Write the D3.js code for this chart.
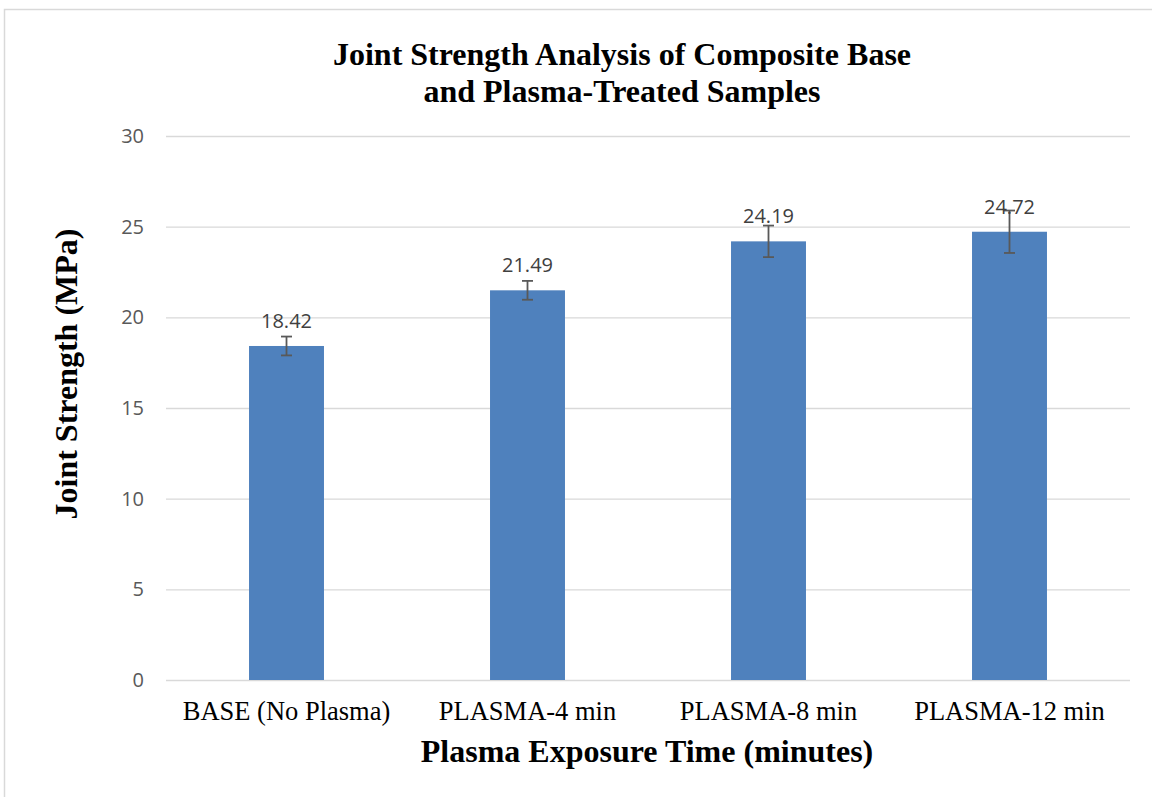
<!DOCTYPE html>
<html>
<head>
<meta charset="utf-8">
<script src="https://cdn.jsdelivr.net/npm/d3@7"></script>
<style>
  html, body { margin: 0; padding: 0; background: #fff; }
  svg { display: block; }
</style>
</head>
<body>
<svg id="chart" width="1152" height="797"></svg>
<script>
// Joint strength per treatment, with standard-deviation error bars
const categories = ["BASE (No Plasma)", "PLASMA-4 min", "PLASMA-8 min", "PLASMA-12 min"];
const strengths = [18.42, 21.49, 24.19, 24.72];
const errors = [0.52, 0.52, 0.87, 1.17];
const yTicks = [0, 5, 10, 15, 20, 25, 30];
const titleLines = ["Joint Strength Analysis of Composite Base", "and Plasma-Treated Samples"];
const xTitle = "Plasma Exposure Time (minutes)";
const yTitle = "Joint Strength (MPa)";

const W = 1152, H = 797;
const plot = { left: 166, right: 1130, top: 136, bottom: 680 };
const serif = "'Liberation Serif', 'Times New Roman', serif";
const sans = "'Open Sans', 'Liberation Sans', sans-serif";

const svg = d3.select("#chart");

// chart frame
svg.append("rect")
  .attr("x", 4.5).attr("y", 9.5)
  .attr("width", W + 10).attr("height", H + 10)
  .attr("fill", "#fff").attr("stroke", "#d9d9d9").attr("stroke-width", 1.5);

const x = d3.scaleBand()
  .domain(categories)
  .range([plot.left, plot.right])
  .paddingInner(0.689).paddingOuter(0.3445);

const y = d3.scaleLinear().domain([0, 30]).range([plot.bottom, plot.top]);

// horizontal gridlines and value labels
const yAxis = d3.axisLeft(y).tickValues(yTicks).tickSize(-(plot.right - plot.left)).tickPadding(22);
const gy = svg.append("g").attr("transform", `translate(${plot.left},0)`).call(yAxis);
gy.select(".domain").remove();
gy.selectAll(".tick line").attr("stroke", "#d9d9d9").attr("stroke-width", 1.3);
gy.selectAll(".tick text")
  .attr("fill", "#595959").style("font-family", sans).style("font-size", "20px");

// category axis
const xAxis = d3.axisBottom(x).tickSize(0).tickPadding(21);
const gx = svg.append("g").attr("transform", `translate(0,${plot.bottom})`).call(xAxis);
gx.select(".domain").remove();
gx.selectAll(".tick text")
  .attr("fill", "#000").style("font-family", serif).style("font-size", "26.5px");

// bars
svg.append("g").selectAll("rect")
  .data(categories)
  .join("rect")
  .attr("x", d => x(d))
  .attr("width", x.bandwidth())
  .attr("y", (d, i) => y(strengths[i]))
  .attr("height", (d, i) => y(0) - y(strengths[i]))
  .attr("fill", "#4f81bd");

// error bars
const eb = svg.append("g").attr("stroke", "#595959").attr("stroke-width", 1.8).attr("fill", "none");
categories.forEach((c, i) => {
  const cx = x(c) + x.bandwidth() / 2;
  const hi = y(strengths[i] + errors[i]);
  const lo = y(strengths[i] - errors[i]);
  eb.append("line").attr("x1", cx).attr("x2", cx).attr("y1", hi).attr("y2", lo);
  eb.append("line").attr("x1", cx - 5.5).attr("x2", cx + 5.5).attr("y1", hi).attr("y2", hi);
  eb.append("line").attr("x1", cx - 5.5).attr("x2", cx + 5.5).attr("y1", lo).attr("y2", lo);
});

// data labels
svg.append("g").selectAll("text")
  .data(categories)
  .join("text")
  .attr("x", d => x(d) + x.bandwidth() / 2)
  .attr("y", (d, i) => y(strengths[i]) - 18)
  .attr("text-anchor", "middle")
  .attr("fill", "#404040")
  .style("font-family", sans).style("font-size", "20px")
  .text((d, i) => strengths[i].toFixed(2));

// title
svg.append("text")
  .attr("x", 622).attr("y", 65)
  .attr("text-anchor", "middle")
  .style("font-family", serif).style("font-weight", "bold").style("font-size", "32px")
  .selectAll("tspan").data(titleLines).join("tspan")
  .attr("x", 622).attr("dy", (d, i) => i === 0 ? 0 : 37)
  .text(d => d);

// axis titles
svg.append("text")
  .attr("x", 647).attr("y", 762)
  .attr("text-anchor", "middle")
  .style("font-family", serif).style("font-weight", "bold").style("font-size", "32px")
  .text(xTitle);

svg.append("text")
  .attr("transform", "translate(77,374) rotate(-90)")
  .attr("text-anchor", "middle")
  .style("font-family", serif).style("font-weight", "bold").style("font-size", "32px")
  .text(yTitle);
</script>
</body>
</html>
